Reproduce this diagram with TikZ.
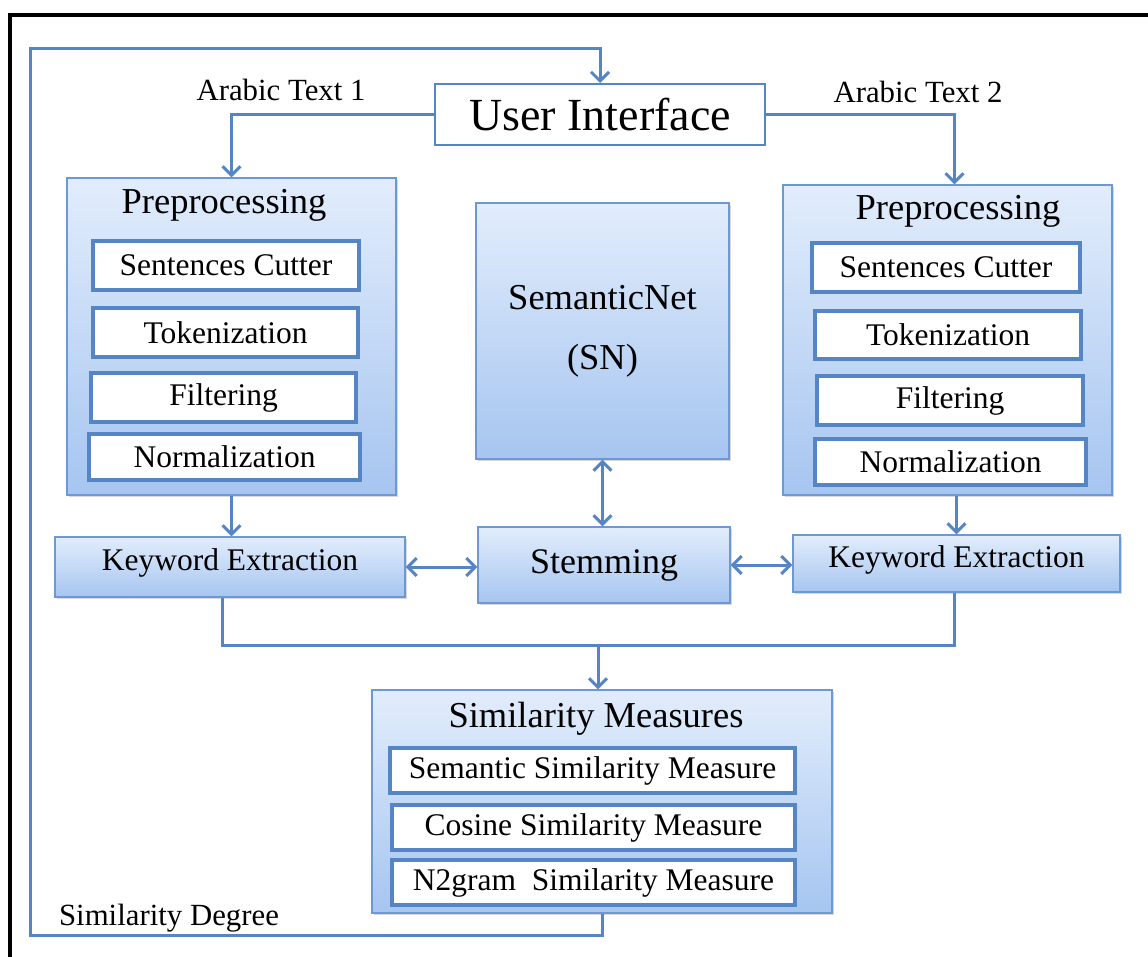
\documentclass[tikz,border=0pt]{standalone}
\usepackage{fontspec}
\setmainfont{Liberation Serif}
\usetikzlibrary{arrows.meta,shadows}
\definecolor{lineblue}{HTML}{5585C5}
\definecolor{boxtop}{HTML}{E2EDFC}
\definecolor{boxbot}{HTML}{A6C5F0}
\definecolor{boxedge}{HTML}{6E98D3}
\tikzset{
  conn/.style={draw=lineblue, line width=3pt},
  >={Straight Barb[length=9pt,width=18pt]},
  bigbox/.style={draw=boxedge, line width=1.2pt, top color=boxtop, bottom color=boxbot,
    drop shadow={opacity=0.3, shadow xshift=2pt, shadow yshift=-2pt}, inner sep=0pt},
  inbox/.style={draw=lineblue, line width=3.5pt, fill=white, inner sep=0pt,
    font=\fontsize{31.5}{36}\selectfont},
  ttl/.style={font=\fontsize{36.5}{42}\selectfont, inner sep=0pt},
  lbl/.style={font=\fontsize{30.8}{36}\selectfont, inner sep=0pt},
}
\begin{document}
\begin{tikzpicture}[x=1pt,y=-1pt]
\useasboundingbox (0,0) rectangle (1148,956);
\fill[white] (0,0) rectangle (1148,956);
% outer frame
\draw[black, line width=4pt] (10,15) rectangle (1170,980);

% main boxes
\node[draw=lineblue, line width=2pt, fill=white, minimum width=330pt, minimum height=61pt,
      font=\fontsize{46}{50}\selectfont] (UI) at (600,114.5) {User Interface};

\node[bigbox, minimum width=329pt, minimum height=317pt] (LPre) at (231.5,336.5) {};
\node[bigbox, minimum width=329pt, minimum height=310pt] (RPre) at (947.5,340) {};
\node[ttl] (LPreT) at (224,205) {Preprocessing};
\node[ttl] (RPreT) at (958,211) {Preprocessing};

\node[inbox, minimum width=266pt, minimum height=49pt] (LSC)  at (226,265.5) {Sentences Cutter};
\node[inbox, minimum width=265pt, minimum height=49pt] (LTok) at (225.5,332.5) {Tokenization};
\node[inbox, minimum width=265pt, minimum height=49pt] (LFil) at (223.5,397.5) {Filtering};
\node[inbox, minimum width=271pt, minimum height=46pt] (LNor) at (224.5,457) {Normalization};

\node[inbox, minimum width=268pt, minimum height=49pt] (RSC)  at (946,267.5) {Sentences Cutter};
\node[inbox, minimum width=266pt, minimum height=48pt] (RTok) at (948,335) {Tokenization};
\node[inbox, minimum width=266pt, minimum height=49pt] (RFil) at (950,400.5) {Filtering};
\node[inbox, minimum width=271pt, minimum height=46pt] (RNor) at (950.5,462) {Normalization};

\node[bigbox, minimum width=253pt, minimum height=256pt, align=center,
      font=\fontsize{36.5}{60}\selectfont] (SN) at (602.5,331) {SemanticNet\\(SN)};
\node[bigbox, minimum width=252pt, minimum height=76pt,
      font=\fontsize{36}{40}\selectfont] (Stem) at (604,565) {Stemming};
\node[bigbox, minimum width=350pt, minimum height=60pt, text depth=14pt,
      font=\fontsize{31.5}{36}\selectfont] (LKE) at (230,567) {Keyword Extraction};
\node[bigbox, minimum width=327pt, minimum height=57pt, text depth=14pt,
      font=\fontsize{31.5}{36}\selectfont] (RKE) at (956.5,563.5) {Keyword Extraction};

\node[bigbox, minimum width=460pt, minimum height=223pt] (SimM) at (602,801.5) {};
\node[ttl] (SimMT) at (596,719) {Similarity Measures};
\node[inbox, minimum width=405pt, minimum height=45pt] (Sem) at (592.5,770.5) {Semantic Similarity Measure};
\node[inbox, minimum width=403pt, minimum height=45pt] (Cos) at (593.5,827.5) {Cosine Similarity Measure};
\node[inbox, minimum width=403pt, minimum height=45pt] (N2)  at (593.5,882.5) {N2gram\ \ Similarity Measure};

% labels
\node[lbl] (A1) at (281,90) {Arabic Text 1};
\node[lbl] (A2) at (918,92) {Arabic Text 2};
\node[lbl] (SD) at (169,918) {Similarity Degree};

% connectors
\coordinate (fbB) at (30,935);
\coordinate (fbT) at (30,48);
\draw[conn,->] (SimM.south) |- (fbB) -- (fbT) -| (UI.north);

\draw[conn,->] (UI.west) -| (LPre.north);
\draw[conn,->] (UI.east) -| ([xshift=7pt]RPre.north);

\draw[conn,->] (LPre.south) -- (LPre.south |- LKE.north);
\draw[conn,->] (RKE.north |- RPre.south) -- (RKE.north);

\draw[conn,<->] (SN.south) -- (SN.south |- Stem.north);
\draw[conn,<->] (LKE.east) -- (LKE.east -| Stem.west);
\draw[conn,<->] (Stem.east) -- (Stem.east -| RKE.west);

\coordinate (m) at (598,645);
\draw[conn] ([xshift=-8pt]LKE.south) |- ([xshift=-2pt]RKE.south |- m) -- ([xshift=-2pt]RKE.south);
\draw[conn,->] (m) -- (m |- SimM.north);
\end{tikzpicture}
\end{document}
